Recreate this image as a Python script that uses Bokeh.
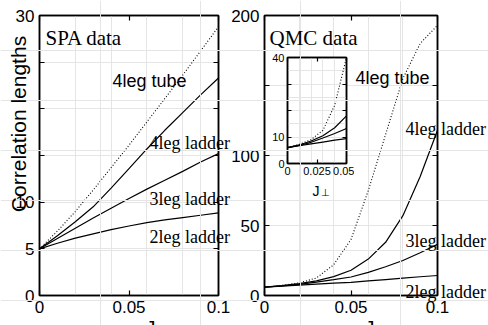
from math import pi
from bokeh.plotting import figure
from bokeh.models import Range1d, FixedTicker, LinearAxis, Label
from bokeh.embed import file_html
from bokeh.resources import INLINE

# ---------------- data ----------------
x_vals = [0.0, 0.01, 0.02, 0.03, 0.04, 0.05, 0.06, 0.07, 0.08, 0.09, 0.1]

spa_tube = [5.0, 6.9, 9.0, 11.3, 13.7, 16.1, 18.6, 21.1, 23.6, 26.2, 28.8]
spa_4leg = [5.0, 6.4, 7.9, 9.5, 11.5, 13.6, 15.7, 17.7, 19.6, 21.5, 23.3]
spa_3leg = [5.0, 6.1, 7.2, 8.3, 9.35, 10.4, 11.4, 12.35, 13.3, 14.3, 15.2]
spa_2leg = [5.0, 5.6, 6.15, 6.6, 7.05, 7.45, 7.8, 8.1, 8.35, 8.6, 8.85]

qmc_tube = [6.0, 7.2, 9.0, 12.5, 22.0, 40.0, 75.0, 115.0, 155.0, 180.0, 193.0]
qmc_4leg = [6.0, 7.0, 8.5, 10.5, 13.5, 18.0, 26.0, 38.0, 57.0, 85.0, 118.0]
qmc_3leg = [6.0, 6.8, 8.0, 9.6, 11.3, 13.2, 16.5, 20.5, 25.0, 30.5, 36.5]
qmc_2leg = [6.0, 6.7, 7.4, 8.1, 8.8, 9.4, 10.4, 11.4, 12.4, 13.4, 14.3]

inset_n = 6  # inset shows J_perp from 0 to 0.05

x_ticks = [0.0, 0.05, 0.1]
x_tick_labels = ["0", "0.05", "0.1"]
spa_y_ticks = [0, 5, 10, 15, 20, 25, 30]
spa_y_labels = ["0", "5", "10", "", "", "", "30"]
qmc_y_ticks = [0, 50, 100, 150, 200]
qmc_y_labels = ["0", "50", "100", "", "200"]
inset_x_ticks = [0.0, 0.025, 0.05]
inset_x_labels = ["0", "0.025", "0.05"]
inset_y_ticks = [0, 10, 20, 30, 40]
inset_y_labels = ["0", "10", "", "", "40"]

curve_names = ["4leg tube", "4leg ladder", "3leg ladder", "2leg ladder"]

SANS = "Liberation Sans"
SERIF = "Liberation Serif"


def make_fig(w, h, xr, yr, borders):
    p = figure(width=w, height=h, x_range=Range1d(*xr), y_range=Range1d(*yr),
               output_backend="svg", toolbar_location=None, title=None,
               x_axis_location=None, y_axis_location=None,
               min_border_left=borders[0], min_border_right=borders[1],
               min_border_top=borders[2], min_border_bottom=borders[3])
    p.background_fill_color = "white"
    p.border_fill_alpha = 0
    p.outline_line_color = "black"
    p.outline_line_width = 1.5
    return p


def lab_map(ticks, labels):
    d = {}
    for t, l in zip(ticks, labels):
        d[t] = l
        d[str(t)] = l
    return d


def add_axes(p, xt, xl, yt, yl, fs, tick_len, so_x, so_y):
    common = dict(major_tick_in=tick_len, major_tick_out=0, minor_tick_in=0, minor_tick_out=0,
                  axis_line_width=1.5, major_tick_line_width=1.2,
                  major_label_text_font=SANS, major_label_text_color="black")
    bx = LinearAxis(ticker=FixedTicker(ticks=xt), major_label_overrides=lab_map(xt, xl),
                    major_label_text_font_size=fs, major_label_standoff=so_x, **common)
    ly = LinearAxis(ticker=FixedTicker(ticks=yt), major_label_overrides=lab_map(yt, yl),
                    major_label_text_font_size=fs, major_label_standoff=so_y, **common)
    ax = LinearAxis(ticker=FixedTicker(ticks=xt), major_label_overrides=lab_map(xt, [""] * len(xt)),
                    major_label_text_font_size="1px", major_label_standoff=0, **common)
    ry = LinearAxis(ticker=FixedTicker(ticks=yt), major_label_overrides=lab_map(yt, [""] * len(yt)),
                    major_label_text_font_size="1px", major_label_standoff=0, **common)
    p.add_layout(bx, "below")
    p.add_layout(ly, "left")
    p.add_layout(ax, "above")
    p.add_layout(ry, "right")


def add_curves(p, xs, ys_list, n=None):
    for i, ys in enumerate(ys_list):
        xx = xs if n is None else xs[:n]
        yy = ys if n is None else ys[:n]
        if i == 0:
            p.line(xx, yy, line_color="black", line_width=1.1, line_dash="1 2")
        else:
            p.line(xx, yy, line_color="black", line_width=1.2)


# ---------------- left panel (SPA) ----------------
left = make_fig(240, 325, (0, 0.1), (0, 30), (39, 22, 15, 30))
add_axes(left, x_ticks, x_tick_labels, spa_y_ticks, spa_y_labels, "17px", 5, 5, 5)
add_curves(left, x_vals, [spa_tube, spa_4leg, spa_3leg, spa_2leg])

# ---------------- right panel (QMC) ----------------
right = make_fig(266, 325, (0, 0.1), (0, 200), (42, 51, 15, 30))
add_axes(right, x_ticks, x_tick_labels, qmc_y_ticks, qmc_y_labels, "17px", 5, 5, 5)
add_curves(right, x_vals, [qmc_tube, qmc_4leg, qmc_3leg, qmc_2leg])

# ---------------- inset ----------------
inset = make_fig(87, 145, (0, 0.05), (0, 40), (20, 8, 7, 32))
add_axes(inset, inset_x_ticks, inset_x_labels, inset_y_ticks, inset_y_labels, "11px", 4, 3, 3)
add_curves(inset, x_vals, [qmc_tube, qmc_4leg, qmc_3leg, qmc_2leg], n=inset_n)

# ---------------- text layer (page pixel coordinates, not clipped) ----------------
texts = figure(width=488, height=325, x_range=Range1d(0, 488), y_range=Range1d(325, 0),
               output_backend="svg", toolbar_location=None, title=None,
               x_axis_location=None, y_axis_location=None,
               min_border_left=0, min_border_right=0, min_border_top=0, min_border_bottom=0)
texts.outline_line_color = None
texts.background_fill_alpha = 0
texts.border_fill_alpha = 0


def txt(x, y, text, font, size, **kw):
    texts.add_layout(Label(x=x, y=y, text=text, text_font=font, text_font_size=size,
                           text_color="black", text_baseline=kw.pop("baseline", "alphabetic"),
                           text_align=kw.pop("align", "left"), **kw))


txt(45, 37, "SPA data", SERIF, "21px")
txt(112, 80, curve_names[0], SANS, "18px")
txt(149, 142, curve_names[1], SERIF, "18px")
txt(149, 198, curve_names[2], SERIF, "18px")
txt(149, 236, curve_names[3], SERIF, "18px")
txt(17.5, 123.5, "Correlation lengths", SANS, "21px", baseline="middle", align="center", angle=pi / 2)
txt(145, 327, "J", SANS, "20px")
txt(157, 330, "⊥", SANS, "13px")

txt(269, 37, "QMC data", SERIF, "21px")
txt(355, 77, curve_names[0], SANS, "18px")
txt(405, 128, curve_names[1], SERIF, "18px")
txt(405, 240, curve_names[2], SERIF, "18px")
txt(405, 291, curve_names[3], SERIF, "18px")
txt(364, 327, "J", SANS, "20px")
txt(376, 330, "⊥", SANS, "13px")

txt(312, 190, "J", SANS, "14px")
txt(320, 192, "⊥", SANS, "10px")

# each figure is its own root (no frame alignment between them), placed absolutely on the page
left.styles = {"position": "absolute", "left": "0px", "top": "0px"}
right.styles = {"position": "absolute", "left": "222px", "top": "0px"}
inset.styles = {"position": "absolute", "left": "267px", "top": "50px"}
texts.styles = {"position": "absolute", "left": "0px", "top": "0px"}

open("out.html", "w").write(file_html([left, right, inset, texts], INLINE))
